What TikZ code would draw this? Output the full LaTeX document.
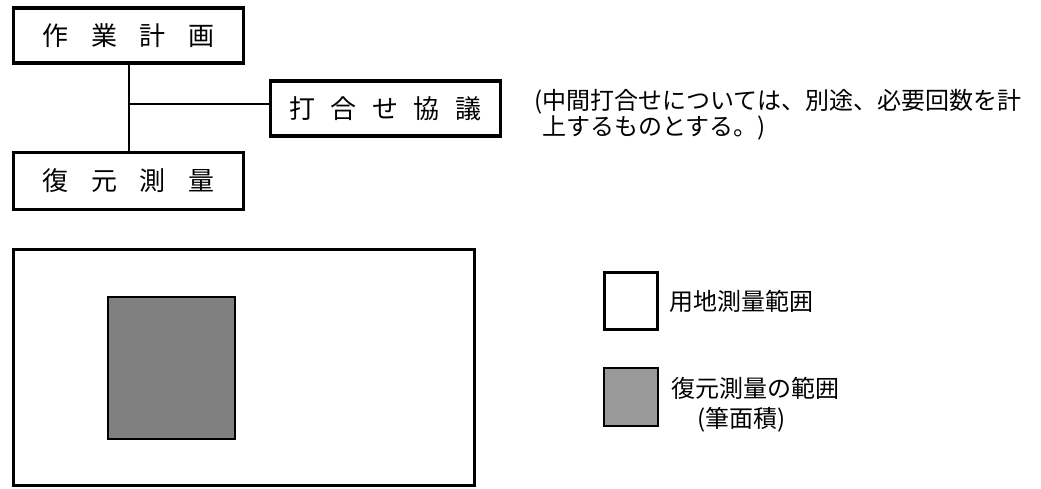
\documentclass[tikz,border=0pt]{standalone}
\usepackage{fontspec}
\setmainfont{Noto Sans CJK JP}
\usetikzlibrary{positioning}

\begin{document}
\begin{tikzpicture}[x=1pt, y=-1pt,
  workbox/.style={draw, line width=3.5pt, minimum width=230pt, minimum height=55pt, inner sep=0pt, font=\fontsize{26}{30}\selectfont},
  thinline/.style={line width=2pt},
  label/.style={anchor=west, inner sep=0pt, font=\fontsize{24}{26}\selectfont}]
\useasboundingbox (0,0) rectangle (1041,489);

\node[workbox] (plan) at (128.5,35.5) {作\hspace{22.5pt}業\hspace{22.5pt}計\hspace{22.5pt}画};
\node[workbox, minimum height=57pt] (fukugen) at (128.5,181) {復\hspace{22.5pt}元\hspace{22.5pt}測\hspace{22.5pt}量};
\node[workbox] (kyogi) at (385.5,108.5) {打\hspace{15.5pt}合\hspace{15.5pt}せ\hspace{15.5pt}協\hspace{15.5pt}議};
\coordinate (junction) at (128.5,104);

\draw[thinline] (plan) -- (fukugen);
\draw[thinline] (junction) -- (junction -| kyogi.west);

\node[label, align=left] (note) at (534,115)
  {(中間打合せについては、別途、必要回数を計\\\hspace{8pt}上するものとする。)};

% area
\draw[line width=3.5pt] (13.5,249.5) rectangle (474.5,485.5);
\draw[thinline, fill=black!50] (107.75,296.75) rectangle (235.25,439.25);

% legend
\node[draw, line width=3.5pt, minimum width=53pt, minimum height=57pt, inner sep=0pt] (keyarea) at (631,301) {};
\node[draw, line width=2pt, fill=black!40, minimum width=54pt, minimum height=58pt, inner sep=0pt] (keyfude) at (630.5,396.5) {};
\node[label, right=10pt of keyarea] (keyareatext) {用地測量範囲};
\node[label] (keyfudetext) at (671,388) {復元測量の範囲};
\node[label] (keyfudenote) at (697,420) {(筆面積)};

\end{tikzpicture}
\end{document}
